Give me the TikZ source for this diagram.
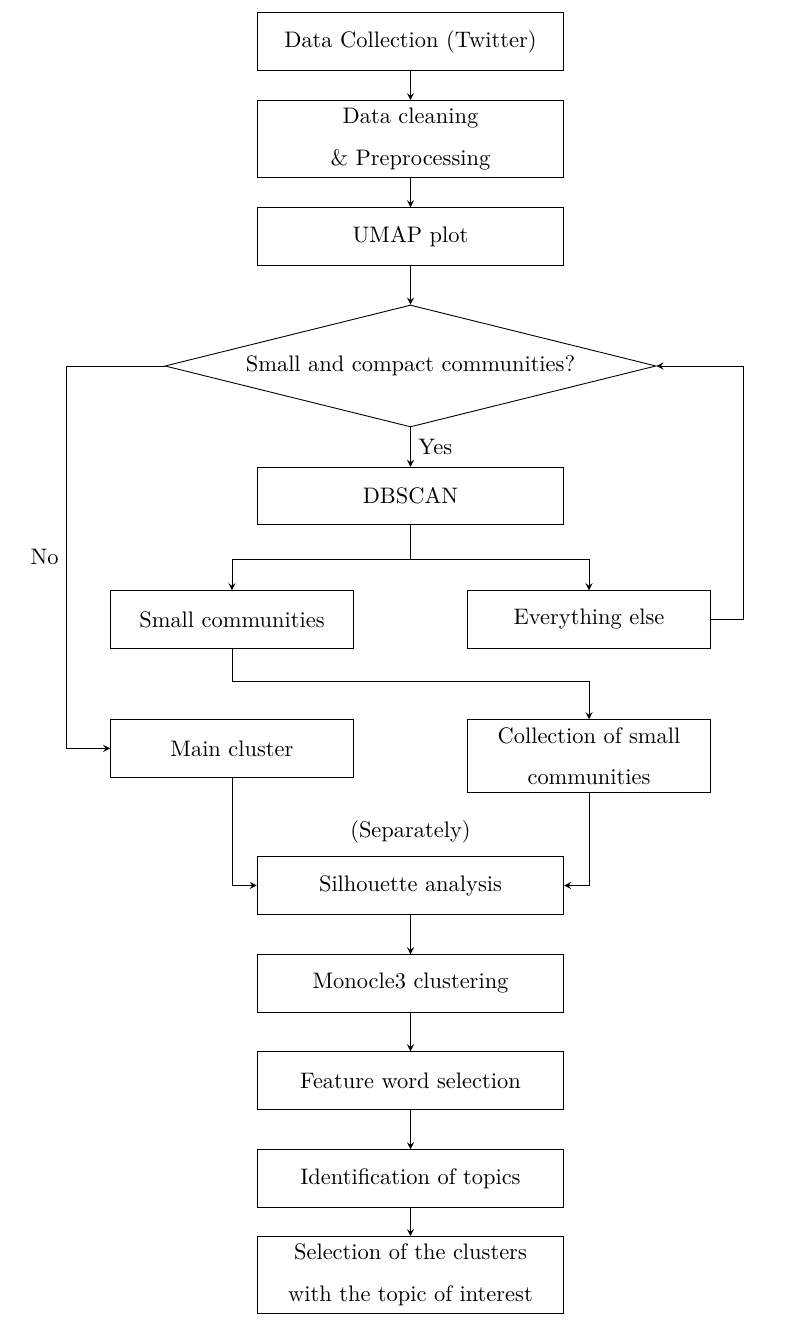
\documentclass[tikz,border=0pt]{standalone}
\usetikzlibrary{shapes, arrows, calc}
\tikzstyle{process}  = [rectangle, 
                        minimum width=4.8cm, 
                        minimum height=0.9cm, 
                        text centered, 
                        align=center,
                        draw=black]
\tikzstyle{subset}   = [rectangle, 
                        minimum width=3.8cm, 
                        minimum height=0.9cm, 
                        text centered, 
                        align=center,
                        draw=black]
\tikzstyle{decision} = [diamond, 
                        aspect=4,
                        inner sep=0pt,
                        minimum width=7.69cm, 
                        minimum height=1.91cm, 
                        text centered, 
                        draw=black]
\tikzstyle{arrow}    = [->, >=stealth]
\tikzstyle{line}     = [-]

\begin{document}
\begin{tikzpicture}
\useasboundingbox (-6.429,0.650) rectangle (6.054,-20.196);

\node [process] (data)            at (0,0) {Data Collection (Twitter)};
\node [process] (clean)           at ([shift={(0,-1.527)}] data) {Data cleaning \\[6.5pt] \& Preprocessing};
\node [process] (umap)            at ([shift={(0,-1.527)}] clean) {UMAP plot};
\node [decision] (compact)        at ([shift={(0,-2.028)}] umap) {Small and compact communities?};
\node [process] (dbscan)          at ([shift={(0,-2.036)}] compact) {DBSCAN};

\node [subset] (small)            at ([shift={(-2.796,-1.934)}] dbscan) {Small communities};
\node [subset] (rest)             at ([shift={(2.796,-1.934)}] dbscan) {Everything else};
\node [subset] (mainCluster)      at ([shift={(0,-2.020)}] small) {Main cluster};
\node [subset] (collection)       at ([shift={(0,-2.138)}] rest) {Collection of small \\[6.5pt] communities};

\node [process] (silhouette)      at ([shift={(0,-6.100)}] dbscan) {Silhouette analysis};
\node (separately)                at ([shift={(0,0.376)}] silhouette.north) {(Separately)};
\node [process] (monocle)         at ([shift={(0,-1.535)}] silhouette) {Monocle3 clustering};
\node [process] (feature)         at ([shift={(0,-1.519)}] monocle) {Feature word selection};
\node [process] (topics)          at ([shift={(0,-1.535)}] feature) {Identification of topics};
\node [process] (selection)       at ([shift={(0,-1.511)}] topics) {Selection of the clusters \\[6.5pt] with the topic of interest};


\draw [arrow] (data) -- (clean);
\draw [arrow] (clean) -- (umap);
\draw [arrow] (umap) -- (compact);
\draw [arrow] (compact) -- node [right] {Yes} (dbscan);

\draw [line] (dbscan.south) -- ++(0,-0.533) coordinate (split);
\draw [arrow] (split) -| (small.north);
\draw [arrow] (split) -| (rest.north);

\draw [arrow] (rest.east) -- ++(0.517,0) |- (compact.east);
\draw [arrow] (compact.west) -- ++(-1.535,0) |- node [pos=0.25, left] {No} (mainCluster.west);
\draw [arrow] (small.south) -- ++(0,-0.517) -| (collection.north);

\draw [arrow] (mainCluster.south) |- (silhouette.west);
\draw [arrow] (collection.south) |- (silhouette.east);

\draw [arrow] (silhouette) -- (monocle);
\draw [arrow] (monocle) -- (feature);
\draw [arrow] (feature) -- (topics);
\draw [arrow] (topics) -- (selection);

\end{tikzpicture}
\end{document}
